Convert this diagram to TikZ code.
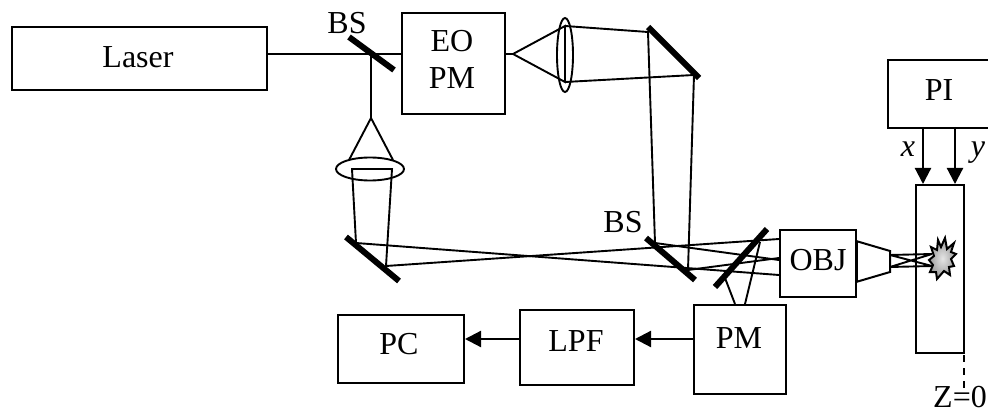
\documentclass[tikz,border=0pt]{standalone}
\usepackage{fontspec}
\setmainfont{Liberation Serif}
\usetikzlibrary{arrows.meta}
\tikzset{
  boxnode/.style={draw=black,line width=2pt,rectangle,inner sep=0pt,anchor=north west},
  txt/.style={anchor=base,inner sep=0pt,font=\fontsize{32}{36}\selectfont},
  beam/.style={draw=black,line width=1.9pt,line join=miter},
  mirror/.style={draw=black,line width=6pt},
  flow/.style={draw=black,line width=2.2pt,-{Triangle[length=16pt,width=16pt]}}
}
\begin{document}
\begin{tikzpicture}[x=1pt,y=-1pt]
\useasboundingbox (0,0) rectangle (988,414);
% boxes
\node[boxnode,minimum width=255pt,minimum height=63pt] (laser) at (11,26) {};
\node[boxnode,minimum width=103pt,minimum height=101pt] (eo) at (401,12) {};
\node[boxnode,minimum width=103pt,minimum height=68pt] (pi) at (887,59) {};
\node[boxnode,minimum width=48pt,minimum height=168pt] (sample) at (915,184) {};
\node[boxnode,minimum width=76pt,minimum height=67pt] (obj) at (779,229) {};
\node[boxnode,minimum width=92pt,minimum height=89pt] (pm) at (693,304) {};
\node[boxnode,minimum width=114pt,minimum height=75pt] (lpf) at (519,309) {};
\node[boxnode,minimum width=126pt,minimum height=68pt] (pc) at (337,314) {};
% texts
\node[txt] (tlaser) at (138,68) {Laser};
\node[txt] (teo) at (452,52) {EO};
\node[txt] (tpm) at (452,89) {PM};
\node[txt] (tbs) at (347,34) {BS};
\node[txt] (tbsb) at (623,233) {BS};
\node[txt] (tpc) at (399,354) {PC};
\node[txt] (tlpf) at (576,351) {LPF};
\node[txt] (tpmb) at (739,348) {PM};
\node[txt] (tpi) at (939,101) {PI};
\node[txt] (tobj) at (818,270) {OBJ};
\node[txt] (tx) at (908,157) {\itshape x};
\node[txt] (ty) at (978,157) {\itshape y};
% coordinates of the optical path
\coordinate (bs) at (371,54);
\coordinate (apexa) at (371,118);
\coordinate (apexb) at (513,54);
\coordinate (ta) at (349,160);
\coordinate (tb) at (393,160);
\coordinate (ra) at (352,169);
\coordinate (rb) at (392,169);
\coordinate (m2a) at (356,243);
\coordinate (m2b) at (386,266);
\coordinate (la) at (565,26);
\coordinate (lb) at (565,82);
\coordinate (m3a) at (648,32);
\coordinate (m3b) at (694,75);
\coordinate (bsa) at (655,243);
\coordinate (bsb) at (688,270);
\coordinate (oa) at (779,239);
\coordinate (ob) at (779,275);
\coordinate (oc) at (779,260);
\coordinate (od) at (779,258);
\coordinate (pa) at (725,278);
\coordinate (pb) at (760,242);
\coordinate (pc1) at (735,304);
\coordinate (pc2) at (745,304);
\coordinate (fa) at (890,255);
\coordinate (fb) at (890,267);
\coordinate (sa) at (932,254);
\coordinate (sb) at (932,266);
% beams
\draw[beam] (laser.east |- bs) -- (eo.west |- bs);
\draw[beam] (bs) -- (apexa) (apexa) -- (ta) (apexa) -- (tb);
\draw[beam] (eo.east |- apexb) -- (apexb) (apexb) -- (la) -- (lb) -- cycle;
\draw[beam] (la) -- (m3a) -- (bsa);
\draw[beam] (lb) -- (m3b) -- (bsb);
\draw[beam] (m2a) -- (ra) -- (rb) -- (m2b);
\draw[beam] (m2a) -- (ob);
\draw[beam] (m2b) -- (oa);
\draw[beam] (bsa) -- (oc);
\draw[beam] (bsb) -- (od);
\draw[beam] (pa) -- (pc1);
\draw[beam] (pb) -- (pc2);
\draw[beam] (fa) -- (sa) (fb) -- (sb) (fa) -- (sb) (fb) -- (sa);
% lenses
\draw[draw=black,line width=1.9pt] (370,169) ellipse [x radius=34,y radius=11.5];
\draw[draw=black,line width=1.9pt] (565,55) ellipse [x radius=8,y radius=37];
% mirrors
\draw[mirror] (349,37) -- (394,70);
\draw[mirror] (648,27) -- (699,78);
\draw[mirror] (346,237) -- (399,281);
\draw[mirror] (646,238) -- (695,280);
\draw[mirror] (715,287) -- (767,229);
% objective
\draw[draw=black,line width=2pt,line join=miter] (856,241) -- (890,251) -- (890,272) -- (856,282);
\draw[draw=black,line width=3pt] (856,241) -- (856,282);
% focal spot
\path[draw=black,line width=2pt,inner color=gray!20,outer color=gray!80]
 (945,238) -- (947,249) -- (954,243) -- (951,252) -- (956,254) -- (951,259) -- (954,266) -- (949,267) -- (950,275) -- (944,271) -- (937,279) -- (936,272) -- (930,272) -- (933,265) -- (929,260) -- (934,256) -- (931,247) -- (937,250) -- (938,240) -- (941,247) -- cycle;
% flows
\coordinate (xs) at (923,127);
\coordinate (ys) at (955,127);
\draw[flow] (xs) -- (xs |- sample.north);
\draw[flow] (ys) -- (ys |- sample.north);
\coordinate (pml) at (693,339);
\coordinate (lpl) at (519,339);
\draw[flow] (pml) -- (lpf.east |- pml);
\draw[flow] (lpl) -- (pc.east |- lpl);
% datum
\coordinate (za) at (964,290);
\coordinate (zb) at (964,393);
\draw[draw=black,line width=1.6pt,dash pattern=on 7pt off 6pt] (za) -- (zb);
\node[txt] (tz) at (960,407) {Z=0};
\end{tikzpicture}
\end{document}
